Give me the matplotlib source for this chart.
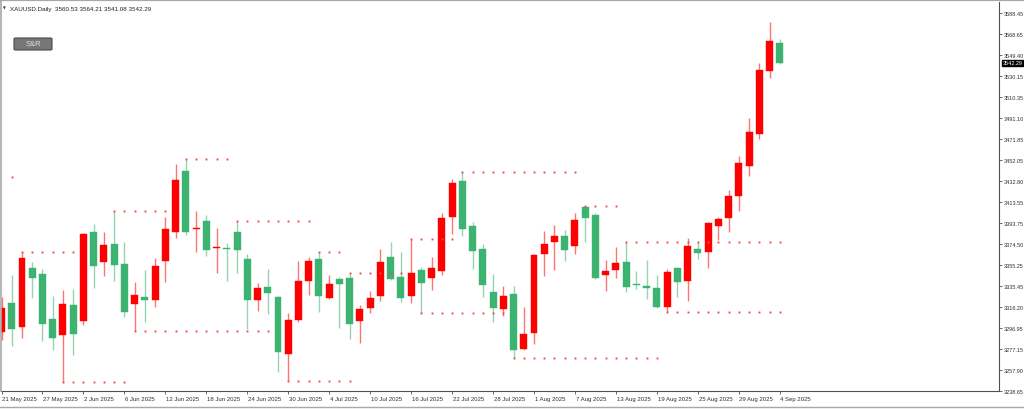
import matplotlib
matplotlib.use("Agg")
import matplotlib.pyplot as plt
from matplotlib.lines import Line2D
from matplotlib.patches import FancyBboxPatch
import matplotlib.transforms as mtransforms

# daily XAUUSD candles, 21 May 2025 .. 4 Sep 2025
opens = [3293.3, 3320.1, 3297.9, 3352.5, 3347.2, 3305.3, 3290.2, 3318.2, 3303.7, 3385.8,
         3357.8, 3375.0, 3356.2, 3318.9, 3325.6, 3322.9, 3359.2, 3385.5, 3442.2, 3388.7,
         3396.3, 3371.0, 3371.0, 3385.8, 3360.8, 3323.1, 3334.9, 3325.4, 3273.2, 3304.1,
         3340.7, 3360.5, 3324.7, 3342.6, 3343.2, 3303.2, 3315.5, 3326.3, 3362.7, 3343.9,
         3326.8, 3350.9, 3343.0, 3349.4, 3399.7, 3432.7, 3391.6, 3370.1, 3330.0, 3314.5,
         3328.4, 3277.5, 3292.1, 3365.4, 3376.8, 3382.1, 3373.1, 3409.2, 3401.5, 3345.7,
         3350.6, 3357.8, 3337.7, 3335.8, 3334.3, 3316.7, 3352.2, 3340.5, 3370.1, 3367.3,
         3391.6, 3399.0, 3418.8, 3447.2, 3476.8, 3534.5, 3560.53]
highs = [3325.6, 3346.0, 3367.6, 3357.8, 3351.6, 3326.8, 3331.8, 3333.0, 3385.0, 3393.5,
         3385.5, 3405.0, 3376.8, 3339.2, 3350.4, 3362.0, 3399.4, 3448.7, 3453.4, 3405.2,
         3401.8, 3389.2, 3375.3, 3395.5, 3365.2, 3338.6, 3351.6, 3326.5, 3310.6, 3359.2,
         3362.4, 3367.0, 3346.0, 3343.9, 3347.6, 3318.2, 3331.2, 3370.3, 3376.5, 3367.6,
         3379.3, 3353.4, 3362.7, 3403.1, 3434.8, 3441.0, 3395.1, 3374.7, 3346.9, 3335.5,
         3335.8, 3316.4, 3365.0, 3387.0, 3392.0, 3387.4, 3403.7, 3410.1, 3403.1, 3360.2,
         3371.9, 3376.5, 3349.4, 3359.9, 3346.0, 3351.6, 3353.4, 3380.0, 3376.8, 3394.6,
         3399.7, 3424.9, 3455.8, 3491.6, 3542.2, 3580.4, 3564.21]
lows = [3285.8, 3280.0, 3287.4, 3324.4, 3285.2, 3276.9, 3246.7, 3272.0, 3300.0, 3334.0,
        3344.8, 3340.2, 3307.4, 3294.2, 3302.2, 3316.4, 3339.2, 3380.5, 3383.0, 3367.0,
        3363.3, 3347.9, 3340.7, 3347.6, 3296.0, 3312.7, 3310.2, 3256.0, 3247.6, 3302.8,
        3327.8, 3311.8, 3324.0, 3296.7, 3286.8, 3283.1, 3311.1, 3322.2, 3341.5, 3320.7,
        3320.1, 3310.8, 3332.4, 3346.0, 3384.2, 3382.4, 3351.6, 3325.9, 3302.2, 3308.3,
        3268.9, 3276.9, 3281.9, 3345.4, 3350.4, 3358.7, 3365.7, 3376.8, 3342.3, 3331.5,
        3343.5, 3330.6, 3332.8, 3323.8, 3315.7, 3312.0, 3325.9, 3322.2, 3360.8, 3352.2,
        3378.0, 3385.5, 3405.5, 3437.9, 3471.6, 3528.0, 3541.08]
closes = [3315.5, 3295.8, 3361.5, 3343.0, 3300.9, 3288.0, 3319.4, 3291.4, 3383.7, 3354.6,
          3373.8, 3355.3, 3312.0, 3327.5, 3323.1, 3354.6, 3388.3, 3434.2, 3385.5, 3389.5,
          3368.9, 3372.2, 3369.8, 3369.4, 3323.1, 3333.7, 3329.1, 3275.0, 3304.1, 3340.2,
          3358.7, 3326.3, 3338.0, 3338.0, 3300.9, 3314.5, 3324.7, 3358.3, 3342.6, 3325.0,
          3347.9, 3338.6, 3352.2, 3398.8, 3431.4, 3388.9, 3368.5, 3336.7, 3315.5, 3326.3,
          3276.9, 3291.1, 3364.5, 3375.0, 3381.8, 3369.4, 3396.9, 3398.5, 3343.0, 3349.4,
          3357.1, 3335.2, 3336.5, 3334.3, 3316.1, 3349.1, 3339.2, 3373.1, 3366.6, 3394.4,
          3397.8, 3418.8, 3449.6, 3478.1, 3536.0, 3562.5, 3542.29]

# every 4th bar is labelled
tick_labels = ["21 May 2025", "27 May 2025", "2 Jun 2025", "6 Jun 2025", "12 Jun 2025",
               "18 Jun 2025", "24 Jun 2025", "30 Jun 2025", "4 Jul 2025", "10 Jul 2025",
               "16 Jul 2025", "22 Jul 2025", "28 Jul 2025", "1 Aug 2025", "7 Aug 2025",
               "13 Aug 2025", "19 Aug 2025", "25 Aug 2025", "29 Aug 2025", "4 Sep 2025"]
price_ticks = [3588.45, 3568.65, 3549.40, 3530.15, 3510.35, 3491.10, 3471.85, 3452.05,
               3432.80, 3413.55, 3393.75, 3374.50, 3355.25, 3335.45, 3316.20, 3296.95,
               3277.15, 3257.90, 3238.65]

# support & resistance levels (price, first bar, last bar)
level_prices = [3436.7, 3367.6, 3246.7, 3405.0, 3453.4, 3395.5, 3294.2, 3247.6, 3347.6,
                3367.0, 3379.3, 3310.8, 3441.0, 3268.9, 3410.1, 3376.5, 3312.0]
level_start = [1, 2, 6, 11, 18, 23, 13, 28, 34, 31, 40, 41, 45, 50, 57, 61, 65]
level_end = [1, 7, 12, 16, 22, 30, 26, 34, 39, 33, 44, 49, 56, 64, 60, 76, 76]

up_col = "#ff0000"
down_col = "#3cb371"
font = ["Liberation Sans", "DejaVu Sans"]
fs = 4.3
fs_y = 4.0

fig = plt.figure(figsize=(10.24, 4.10), dpi=100)
ax = fig.add_axes([1 / 1024, 18 / 410, 998 / 1024, 389 / 410])

n = len(opens)
xs = list(range(n))
for i in xs:
    o, h, l, c = opens[i], highs[i], lows[i], closes[i]
    col = up_col if c >= o else down_col
    ax.vlines(i, l, h, color=col, lw=1.0, alpha=0.55, zorder=2)
    bot = min(o, c)
    hgt = abs(c - o)
    if hgt < 1.2:
        bot = (o + c) / 2 - 0.6
        hgt = 1.2
    ax.bar(i, hgt, bottom=bot, width=0.68, color=col, edgecolor=col, lw=0.3, zorder=3)

for p, s, e in zip(level_prices, level_start, level_end):
    bars = list(range(s, e + 1))
    ax.plot(bars, [p] * len(bars), ls="none", marker="s", ms=1.35, mew=0,
            color="#f04848", zorder=4)

ax.set_xlim(-0.05, 97.41)
ax.set_ylim(3238.65, 3598.6)

for sp in ["top", "left"]:
    ax.spines[sp].set_visible(False)
for sp in ["right", "bottom"]:
    ax.spines[sp].set_color("#505050")
    ax.spines[sp].set_linewidth(0.8)

ax.yaxis.tick_right()
ax.set_yticks(price_ticks)
ax.set_yticklabels(["%.2f" % v for v in price_ticks], fontsize=fs_y, family=font,
                   color="#303030")
ax.tick_params(axis="y", direction="out", length=2, width=0.6, color="#505050", pad=1.2)

ax.set_xticks(list(range(0, n, 4)))
ax.set_xticklabels(tick_labels, fontsize=fs, family=font, color="#303030", ha="left")
ax.tick_params(axis="x", direction="out", length=2.5, width=0.6, color="#505050", pad=1.2)
for lab in ax.get_xticklabels():
    lab.set_transform(lab.get_transform() + mtransforms.ScaledTranslation(0.5 / 72, 0, fig.dpi_scale_trans))

# last price tag on the price scale
trans = mtransforms.blended_transform_factory(ax.transAxes, ax.transData)
ax.text(1.0035, closes[-1], "%.2f" % closes[-1], transform=trans, fontsize=fs_y, family=font,
        color="white", va="center", ha="left", zorder=6, clip_on=False,
        bbox=dict(boxstyle="square,pad=0.15", fc="black", ec="black"))

# header
fig.text(3 / 1024, 1 - 9 / 410, "\u25bc", fontsize=2.6, family="DejaVu Sans",
         color="#303030", va="center")
fig.text(10 / 1024, 1 - 9 / 410,
         "XAUUSD.Daily  %.2f %.2f %.2f %.2f" % (opens[-1], highs[-1], lows[-1], closes[-1]),
         fontsize=4.5, family=font, color="#202020", va="center")

# S&R button
btn = FancyBboxPatch((14 / 1024, 1 - 51 / 410), 38 / 1024, 12 / 410,
                     boxstyle="round,pad=0,rounding_size=0.002", transform=fig.transFigure,
                     fc="#777777", ec="#4a4a4a", lw=0.8)
fig.add_artist(btn)
fig.text(33 / 1024, 1 - 44.5 / 410, "S&R", fontsize=5.5, family=font, color="#e0e0e0",
         ha="center", va="center")

# window frame
fig.add_artist(Line2D([0, 1], [1 - 1 / 410, 1 - 1 / 410], transform=fig.transFigure,
                      color="#a8a8a8", lw=1.6))
fig.add_artist(Line2D([0.5 / 1024, 0.5 / 1024], [18 / 410, 1], transform=fig.transFigure,
                      color="#a8a8a8", lw=1.2))
fig.add_artist(Line2D([0, 1], [2.5 / 410, 2.5 / 410], transform=fig.transFigure,
                      color="#a8a8a8", lw=1.0))

fig.savefig("out.png", dpi=100)
